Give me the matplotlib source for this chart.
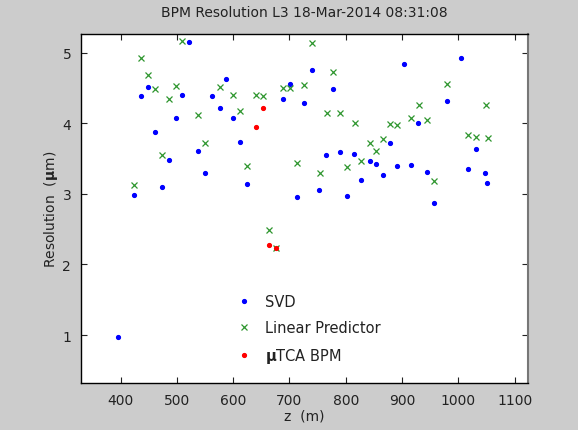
import matplotlib
matplotlib.use('Agg')
import matplotlib.pyplot as plt

# SVD resolution, z (m) vs resolution (um)
svd_z = [521.9, 586.5, 449.0, 436.0, 509.4, 562.7, 575.9, 498.8, 599.5, 462.0,
         611.9, 536.8, 485.8, 549.8, 624.9, 472.8, 423.6, 902.8, 739.8, 700.2,
         776.6, 688.9, 725.1, 928.7, 879.0, 765.3, 789.1, 815.0, 842.8, 853.6,
         890.4, 915.7, 943.6, 866.5, 826.4, 752.8, 712.6, 802.0, 1004.0, 980.2,
         1031.2, 1016.4, 1047.7, 1051.3, 956.1, 395.7]
svd_res = [5.15, 4.62, 4.52, 4.39, 4.40, 4.39, 4.21, 4.08, 4.08, 3.88,
           3.74, 3.61, 3.48, 3.29, 3.14, 3.09, 2.98, 4.84, 4.76, 4.56,
           4.48, 4.34, 4.28, 4.01, 3.72, 3.55, 3.59, 3.57, 3.47, 3.42,
           3.39, 3.41, 3.31, 3.26, 3.20, 3.06, 2.95, 2.97, 4.92, 4.32,
           3.63, 3.35, 3.29, 3.16, 2.87, 0.97]

# Linear predictor
lp_z = [509.4, 436.0, 449.0, 462.0, 498.8, 575.9, 485.8, 599.5, 639.8, 612.5,
        536.8, 549.8, 472.8, 624.9, 423.6, 740.4, 777.1, 725.6, 688.9, 700.2,
        652.3, 929.4, 766.0, 789.7, 915.7, 943.6, 815.7, 879.0, 890.4, 842.8,
        866.5, 854.2, 826.4, 713.8, 802.6, 753.5, 980.2, 1048.4, 1017.0, 1031.7,
        1052.0, 956.1, 664.0, 675.9]
lp_res = [5.17, 4.92, 4.69, 4.49, 4.53, 4.51, 4.34, 4.40, 4.40, 4.17,
          4.11, 3.72, 3.55, 3.40, 3.13, 5.14, 4.73, 4.54, 4.50, 4.50,
          4.38, 4.26, 4.15, 4.14, 4.08, 4.05, 4.00, 3.99, 3.98, 3.72,
          3.77, 3.61, 3.47, 3.43, 3.38, 3.29, 4.56, 4.26, 3.83, 3.80,
          3.79, 3.18, 2.49, 2.23]

# uTCA BPM
utca_z = [639.8, 652.3, 663.5, 675.9]
utca_res = [3.95, 4.21, 2.28, 2.23]

plt.rcParams['font.family'] = ['DejaVu Sans']
plt.rcParams['mathtext.fontset'] = 'dejavusans'

txt = '#222222'

fig = plt.figure(figsize=(5.78, 4.31), dpi=100, facecolor='#cccccc')
ax = fig.add_axes([0.140, 0.109, 0.7735, 0.810])
ax.set_facecolor('white')

ax.plot(svd_z, svd_res, '.', color='#0000ff', markersize=5.5, label='SVD')
ax.plot(lp_z, lp_res, 'x', color='#2e962e', markersize=5, markeredgewidth=0.9,
        label='Linear Predictor')
ax.plot(utca_z, utca_res, '.', color='#ff0000', markersize=5.5,
        label=r'$\mathbf{μ}$TCA BPM')

ax.set_xlim(329.6, 1123.6)
ax.set_ylim(0.32, 5.265)
ax.set_xticks(range(400, 1101, 100))
ax.set_yticks([1, 2, 3, 4, 5])
ax.tick_params(direction='in', top=True, right=True, labelsize=10,
               length=4, width=0.8, pad=7, colors=txt)
for s in ax.spines.values():
    s.set_linewidth(1.0)
ax.spines['right'].set_color('#777777')
ax.spines['right'].set_linewidth(1.5)

ax.set_title('BPM Resolution L3 18-Mar-2014 08:31:08', fontsize=10, pad=13,
             color=txt)
ax.set_xlabel('z  (m)', fontsize=10, labelpad=1, color=txt)
ax.set_ylabel(r'Resolution  ($\mathbf{μ}$m)', fontsize=10, labelpad=2,
              color=txt)

ax.legend(loc='upper left', bbox_to_anchor=(0.31, 0.292), frameon=False,
          fontsize=10.5, labelspacing=0.75, handlelength=1.5, handletextpad=0.7,
          labelcolor=txt)

fig.savefig('out.png', dpi=100, facecolor=fig.get_facecolor())
